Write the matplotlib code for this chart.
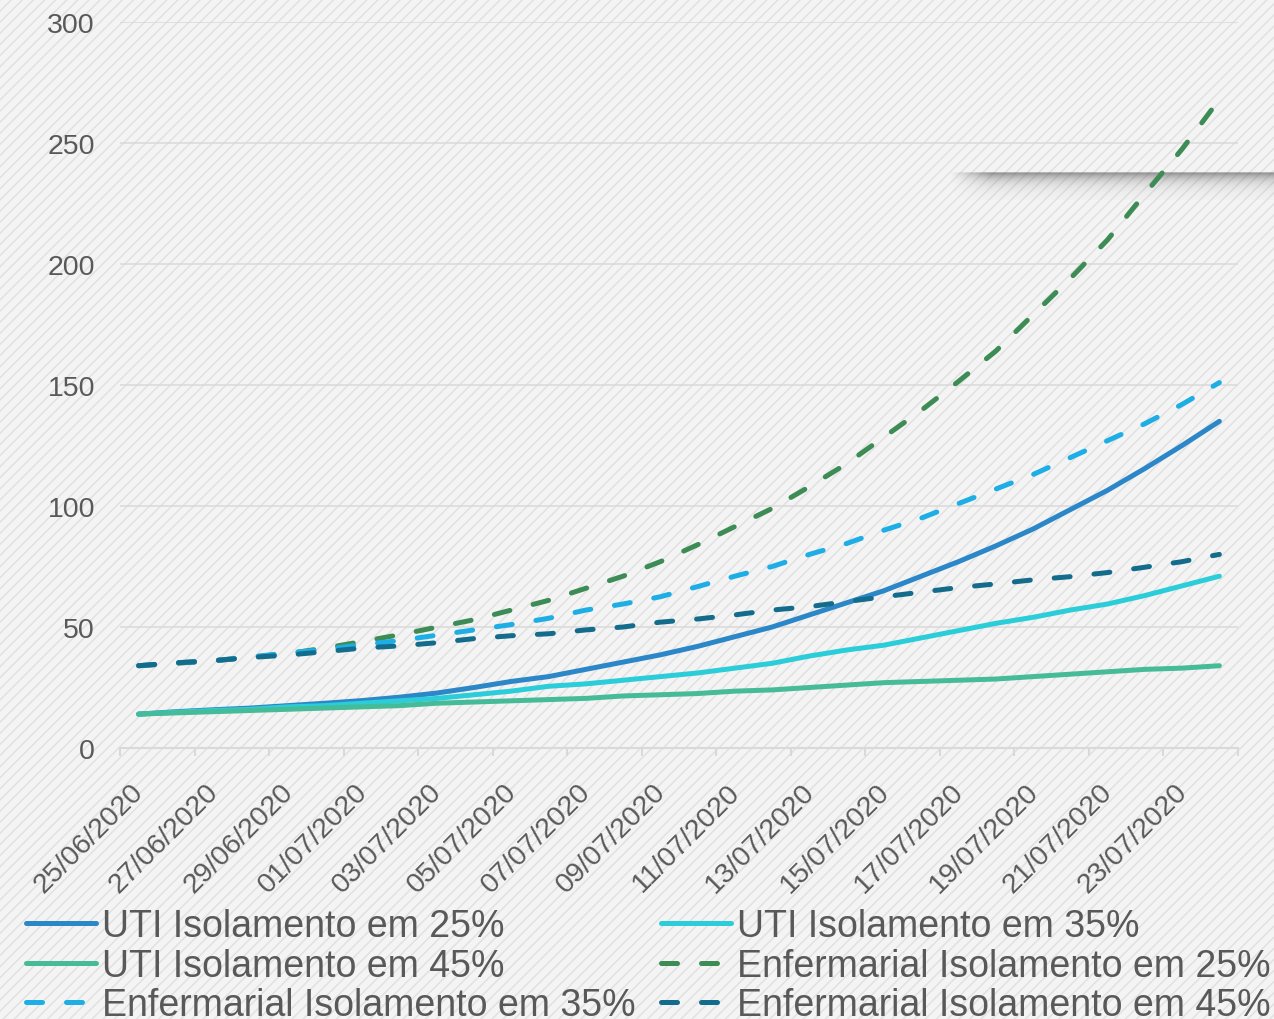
import numpy as np
import pandas as pd
import matplotlib
matplotlib.use('Agg')
import matplotlib.pyplot as plt
import matplotlib.transforms as mtransforms
from matplotlib.patches import Rectangle

# dates 25/06/2020 .. 24/07/2020
dates = list(pd.date_range('2020-06-25', '2020-07-24').strftime('%d/%m/%Y'))

uti_25 = [14, 15, 15.8, 16.5, 17.5, 18.5, 19.6, 21, 22.7, 25, 27.5, 29.5, 32.5, 35.5, 38.5,
          42, 46, 50, 55, 60, 65, 71, 77, 83.5, 90.5, 98.5, 106.5, 115.5, 125, 135]
uti_35 = [14, 14.8, 15.5, 16, 17, 17.5, 18.5, 19.5, 20.5, 22, 23.5, 25.5, 26.5, 28, 29.5,
          31, 33, 35, 38, 40.5, 42.5, 45.5, 48.5, 51.5, 54, 57, 59.5, 63, 67, 71]
uti_45 = [14, 14.5, 15, 15.5, 16, 16.5, 17, 17.5, 18.5, 19, 19.5, 20, 20.5, 21.5, 22,
          22.5, 23.5, 24, 25, 26, 27, 27.5, 28, 28.5, 29.5, 30.5, 31.5, 32.5, 33, 34]
enf_25 = [34, 35, 36, 37.5, 39, 41.3, 44, 46.8, 49.9, 53, 57, 61, 66, 71, 77,
          84, 91.5, 99, 108, 117.5, 128.5, 139.5, 151.5, 164, 179, 194, 210, 229, 247.5, 268]
enf_35 = [34, 35.2, 36.1, 37.6, 39.3, 40.7, 42.7, 44.4, 46.6, 48.8, 51, 53.6, 57, 59.5, 62.5,
          66.7, 71, 75, 80, 84.5, 90, 95, 101, 107, 113, 120, 127, 134, 142, 151]
enf_45 = [34, 35.2, 36.1, 37.4, 38.4, 39.8, 41.3, 42.2, 43.5, 45.2, 46.4, 47.2, 48.8, 50, 52,
          53.3, 55, 57, 58.4, 60.5, 62.5, 64.4, 66.3, 67.8, 69.5, 70.8, 72.5, 74.7, 77, 80]

series = [
    ('UTI Isolamento em 25%', uti_25, '#2b87c8', False),
    ('UTI Isolamento em 35%', uti_35, '#2bcdd8', False),
    ('UTI Isolamento em 45%', uti_45, '#45bb97', False),
    ('Enfermarial Isolamento em 25%', enf_25, '#3e8c55', True),
    ('Enfermarial Isolamento em 35%', enf_35, '#1daee5', True),
    ('Enfermarial Isolamento em 45%', enf_45, '#136c8c', True),
]

plt.rcParams['font.family'] = ['Liberation Sans', 'DejaVu Sans']
plt.rcParams['hatch.linewidth'] = 1.1

W, H = 1274, 1020
fig = plt.figure(figsize=(W / 100, H / 100), dpi=100)
fig.patch.set_facecolor('#f4f4f4')
# striped background
fig.add_artist(Rectangle((0, 0), 1, 1, transform=fig.transFigure, facecolor='#f4f4f4',
                         edgecolor='#e1e1e1', hatch='///', lw=0, zorder=-10))

# soft shadow band top right
sh, sw = 28, W - 950
yy = np.arange(sh)[:, None]
xx = np.arange(sw)[None, :]
alpha = 0.62 * np.exp(-yy / 7.5) * np.clip(xx / 40.0, 0, 1)
alpha[0] *= 0.6
shadow = np.zeros((sh, sw, 4))
shadow[..., :3] = 0.3
shadow[..., 3] = alpha
fig.figimage(shadow, xo=950, yo=H - 173 - sh, zorder=-5, origin='upper')

ax = fig.add_axes([120 / W, 1 - 749 / H, (1238 - 120) / W, (749 - 23) / H])
ax.patch.set_visible(False)

x = np.arange(len(dates))
for name, vals, col, dashed in series:
    if dashed:
        ax.plot(x, vals, color=col, lw=3.6, dashes=(3.2, 4.8), dash_capstyle='round', label=name)
    else:
        ax.plot(x, vals, color=col, lw=3.6, solid_capstyle='round', label=name)

ax.set_xlim(-0.5, len(dates) - 0.5)
ax.set_ylim(0, 300)
ax.set_yticks(range(0, 301, 50))
ax.yaxis.grid(True, color='#d9d9d9', lw=1.1)
ax.set_axisbelow(True)
for s in ['left', 'right', 'top']:
    ax.spines[s].set_visible(False)
ax.spines['bottom'].set_color('#d9d9d9')
ax.spines['bottom'].set_linewidth(1.5)
ax.tick_params(axis='y', length=0, pad=18, labelsize=20.5, labelcolor='#595959')

ax.set_xticks(np.arange(-0.5, len(dates), 2))
ax.set_xticklabels([])
ax.tick_params(axis='x', which='major', length=6, color='#d9d9d9', width=1.5)
ax.set_xticks(x[::2], minor=True)
ax.set_xticklabels(dates[::2], minor=True, rotation=45, ha='right', va='top',
                   rotation_mode='anchor')
ax.tick_params(axis='x', which='minor', length=0, pad=22, labelsize=20.5, labelcolor='#595959')
shift = mtransforms.ScaledTranslation(-0.08, 0, fig.dpi_scale_trans)
for lab in ax.get_xticklabels(minor=True):
    lab.set_transform(lab.get_transform() + shift)

handles, labels = ax.get_legend_handles_labels()
order = [0, 2, 4, 1, 3, 5]
fig.legend([handles[i] for i in order], [labels[i] for i in order], ncol=2,
           loc='upper left', bbox_to_anchor=(26 / W, 1 - 909 / H), frameon=False,
           fontsize=27, handlelength=1.87, handletextpad=0.16, columnspacing=0.67,
           labelspacing=0.1, borderpad=0, borderaxespad=0, labelcolor='#595959')

fig.savefig('out.png', dpi=100)
